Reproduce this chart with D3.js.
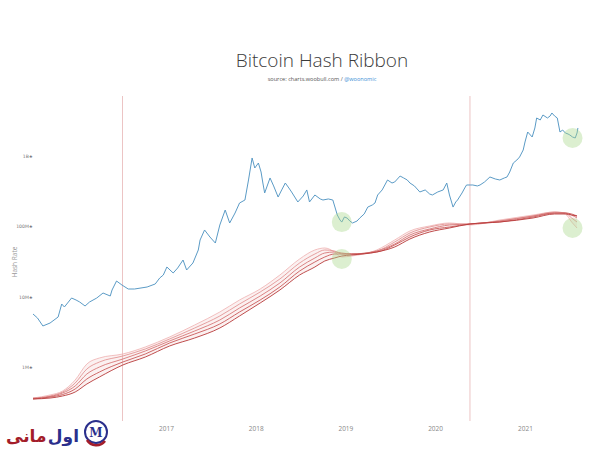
<!DOCTYPE html>
<html><head><meta charset="utf-8">
<script src="https://cdn.jsdelivr.net/npm/d3@7/dist/d3.min.js"></script>
<style>
html,body{margin:0;padding:0;background:#fff;}
svg{display:block;}
</style></head>
<body>
<svg id="chart" width="600" height="450"></svg>
<script>
// ---------- DATA (decimal years, values in millions of hash units) ----------
const priceDates = [2015.52,2015.57,2015.63,2015.71,2015.80,2015.84,2015.87,2015.95,2016.00,2016.04,2016.10,2016.15,2016.23,2016.30,2016.38,2016.40,2016.45,2016.51,2016.58,2016.65,2016.79,2016.88,2016.93,2016.97,2017.01,2017.08,2017.13,2017.19,2017.23,2017.27,2017.30,2017.36,2017.38,2017.43,2017.49,2017.55,2017.60,2017.66,2017.71,2017.77,2017.82,2017.88,2017.92,2017.96,2017.99,2018.03,2018.06,2018.08,2018.10,2018.16,2018.20,2018.25,2018.29,2018.33,2018.37,2018.40,2018.47,2018.53,2018.57,2018.60,2018.66,2018.72,2018.75,2018.81,2018.86,2018.91,2018.94,2018.96,2018.99,2019.02,2019.05,2019.08,2019.13,2019.16,2019.21,2019.25,2019.30,2019.33,2019.36,2019.41,2019.44,2019.47,2019.52,2019.55,2019.61,2019.65,2019.69,2019.72,2019.77,2019.83,2019.89,2019.94,2019.97,2020.03,2020.09,2020.13,2020.16,2020.20,2020.23,2020.25,2020.30,2020.33,2020.35,2020.39,2020.42,2020.47,2020.50,2020.55,2020.61,2020.67,2020.72,2020.77,2020.80,2020.83,2020.87,2020.91,2020.94,2020.98,2021.00,2021.03,2021.08,2021.11,2021.13,2021.17,2021.20,2021.25,2021.28,2021.30,2021.33,2021.36,2021.39,2021.42,2021.45,2021.48,2021.50,2021.53,2021.56,2021.58,2021.59];
const priceValues = [5.67,4.97,3.83,4.22,5.14,7.86,7.13,9.57,8.96,8.40,7.37,8.40,9.57,11.27,10.22,12.43,16.70,14.65,12.85,12.85,13.72,15.14,18.42,20.32,26.41,21.70,25.56,33.21,23.94,27.29,30.10,46.07,63.9,88.7,70.5,57.9,104.4,170.7,111.5,154.7,214.6,236.7,456,937,675,795,592,413,298,487,375,261,329,413,351,308,222,270,329,222,279,245,236.7,245,236.7,145,123,115,136,131,119,111.5,119,131,150,188,201,214.6,279,329,387,456,413,427,519,487,456,413,375,308,329,288,279,308,329,413,279,188,222,236.7,298,351,387,387,387,375,387,427,503,471,456,487,503,592,795,877,968,1217,1582,2194,1863,2501,3470,3250,3828,3470,3704,4087,3704,3470,2194,2342,2123,2055,1989,1863,1803,2123,2501];

const ribbonDates = [2015.52,2015.71,2015.85,2015.99,2016.12,2016.26,2016.52,2016.77,2017.04,2017.32,2017.60,2017.82,2018.05,2018.27,2018.49,2018.66,2018.77,2018.88,2018.96,2019.07,2019.35,2019.55,2019.72,2019.94,2020.16,2020.39,2020.72,2021.09,2021.33,2021.45,2021.52,2021.58];
const ribbonShortest = [0.362,0.400,0.456,0.653,1.103,1.343,1.531,1.925,2.671,3.956,6.053,8.969,12.85,20.33,34.33,46.09,49.20,43.16,36.64,37.87,46.09,63.94,85.86,101.1,111.6,104.5,123.1,144.9,159.9,149.8,115.3,94.71];
const ribbonShort    = [0.362,0.387,0.441,0.592,0.937,1.178,1.433,1.803,2.501,3.585,5.312,7.869,11.65,17.84,30.11,40.43,46.09,44.60,40.43,40.43,44.60,59.89,80.42,97.86,108.0,108.0,119.1,140.3,159.9,154.7,131.4,115.3];
const ribbonMid      = [0.357,0.381,0.427,0.537,0.795,1.000,1.300,1.689,2.343,3.251,4.659,6.902,10.22,15.65,26.42,35.47,41.77,43.16,41.77,40.43,44.60,56.09,75.33,91.68,104.5,108.0,119.1,140.3,154.7,154.7,144.9,131.4];
const ribbonLong     = [0.351,0.374,0.406,0.487,0.675,0.849,1.178,1.531,2.194,2.946,4.087,6.053,8.969,13.73,23.17,31.12,36.64,40.43,40.43,40.43,43.16,54.29,70.55,88.72,97.86,108.0,115.3,135.8,154.7,154.7,149.8,140.3];
const ribbonLongest  = [0.351,0.362,0.387,0.441,0.573,0.721,1.068,1.387,1.989,2.585,3.585,5.312,8.128,12.44,20.33,26.42,32.15,35.47,37.87,39.13,43.16,50.84,66.07,83.10,94.71,108.0,115.3,131.4,149.8,149.8,144.9,140.3];

const halvingDates = ["2016-07-08","2020-05-22"];
const signalDates  = [2018.96,2018.96,2021.53,2021.53];
const signalValues = [115,34.3,1803,94.7];

const yearTicks = ["2017","2018","2019","2020","2021"];
const yTickValues = [1,10,100,1000];
const yTickLabels = ["1M★","10M★","100M★","1B★"];

const titleText = "Bitcoin Hash Ribbon";
const sourceText = "source: charts.woobull.com / ";
const handleText = "@woonomic";
const logoWordBlue = "اول";
const logoWordRed = "مانی";

// ---------- helpers ----------
function decYear(d){
  const y = Math.floor(d);
  const s = Date.UTC(y,0,1), e = Date.UTC(y+1,0,1);
  return new Date(s + (d - y)*(e - s));
}

const svg = d3.select("#chart");

const x = d3.scaleTime()
  .domain([new Date(Date.UTC(2017,0,1)), new Date(Date.UTC(2021,0,1))])
  .range([166, 525]);
const y = d3.scaleLog().domain([1,1000]).range([367,156]);

// title
svg.append("text").attr("x",322).attr("y",67).attr("text-anchor","middle")
  .attr("font-family","'Open Sans', 'Noto Sans', sans-serif").attr("font-weight",300)
  .attr("font-size",19).attr("fill","#3a3a3a").text(titleText);
const sub = svg.append("text").attr("x",322).attr("y",81).attr("text-anchor","middle")
  .attr("font-family","'Open Sans', sans-serif").attr("font-size",5.6).attr("fill","#555");
sub.append("tspan").text(sourceText);
sub.append("tspan").attr("fill","#3d8fd6").text(handleText);

// halving lines
svg.selectAll(".halving").data(halvingDates).enter().append("line")
  .attr("x1",d=>x(new Date(d+"T00:00:00Z"))).attr("x2",d=>x(new Date(d+"T00:00:00Z")))
  .attr("y1",96).attr("y2",421)
  .attr("stroke","#ecc4c4").attr("stroke-width",1);

// ribbon
const ribbons = [ribbonShortest, ribbonShort, ribbonMid, ribbonLong, ribbonLongest];
const ribbonColors = ["#f0b8b8","#e39696","#d77878","#c95a5a","#b83a3a"];
const area = d3.area()
  .x((d,i)=>x(decYear(ribbonDates[i])))
  .y0((d,i)=>y(ribbonLongest[i]))
  .y1(d=>y(d))
  .curve(d3.curveMonotoneX);
svg.append("path").datum(ribbonShortest).attr("d",area)
  .attr("fill","#e7a0a0").attr("fill-opacity",0.15);
const line = d3.line()
  .x((d,i)=>x(decYear(ribbonDates[i])))
  .y(d=>y(d))
  .curve(d3.curveMonotoneX);
ribbons.forEach((r,k)=>{
  svg.append("path").datum(r).attr("d",line)
    .attr("fill","none").attr("stroke",ribbonColors[k]).attr("stroke-width",0.9);
});

// price line
const pLine = d3.line()
  .x((d,i)=>x(decYear(priceDates[i])))
  .y(d=>y(d));
svg.append("path").datum(priceValues).attr("d",pLine)
  .attr("fill","none").attr("stroke","#5b9bc6").attr("stroke-width",1);

// signal circles
svg.selectAll(".sig").data(signalValues).enter().append("circle")
  .attr("cx",(d,i)=>x(decYear(signalDates[i]))).attr("cy",d=>y(d))
  .attr("r",10).attr("fill","#a8d88a").attr("fill-opacity",0.4);

// axes
const xAxis = d3.axisBottom(x)
  .tickValues(yearTicks.map(t=>new Date(Date.UTC(+t,0,1))))
  .tickFormat((d,i)=>yearTicks[i]).tickSize(0).tickPadding(6);
const gx = svg.append("g").attr("transform","translate(0,420)").call(xAxis);
gx.select(".domain").remove();
gx.selectAll("text").attr("font-family","'Open Sans', sans-serif").attr("font-size",6.5).attr("fill","#888");

const yAxis = d3.axisLeft(y).tickValues(yTickValues)
  .tickFormat((d,i)=>yTickLabels[i]).tickSize(0).tickPadding(1);
const gy = svg.append("g").attr("transform","translate(34,0)").call(yAxis);
gy.select(".domain").remove();
gy.selectAll("text").attr("font-family","'DejaVu Sans', sans-serif").attr("font-size",4.6).attr("fill","#777");

svg.append("text").attr("transform","translate(17,262) rotate(-90)")
  .attr("text-anchor","middle").attr("font-family","'Open Sans', sans-serif")
  .attr("font-size",6.5).attr("fill","#999").text("Hash Rate");

// watermark logo
const logo = svg.append("g");
logo.append("text").attr("x",6).attr("y",442).attr("text-anchor","start")
  .attr("font-family","'DejaVu Sans', sans-serif").attr("font-weight","bold").attr("font-size",17)
  .attr("fill","#a31d2a").text(logoWordRed);
logo.append("text").attr("x",79).attr("y",442).attr("text-anchor","end")
  .attr("font-family","'DejaVu Sans', sans-serif").attr("font-weight","bold").attr("font-size",17)
  .attr("fill","#2a2f8c").text(logoWordBlue);
logo.append("circle").attr("cx",96).attr("cy",432).attr("r",11)
  .attr("fill","none").attr("stroke","#2a2f8c").attr("stroke-width",2);
logo.append("path").attr("d","M87,440 A11,11 0 0 0 105,441").attr("fill","none")
  .attr("stroke","#a31d2a").attr("stroke-width",2.6);
logo.append("text").attr("x",96).attr("y",436.5).attr("text-anchor","middle")
  .attr("font-family","'DejaVu Serif', serif").attr("font-weight","bold").attr("font-size",12)
  .attr("fill","#2a2f8c").text("M");
</script>
</body></html>
